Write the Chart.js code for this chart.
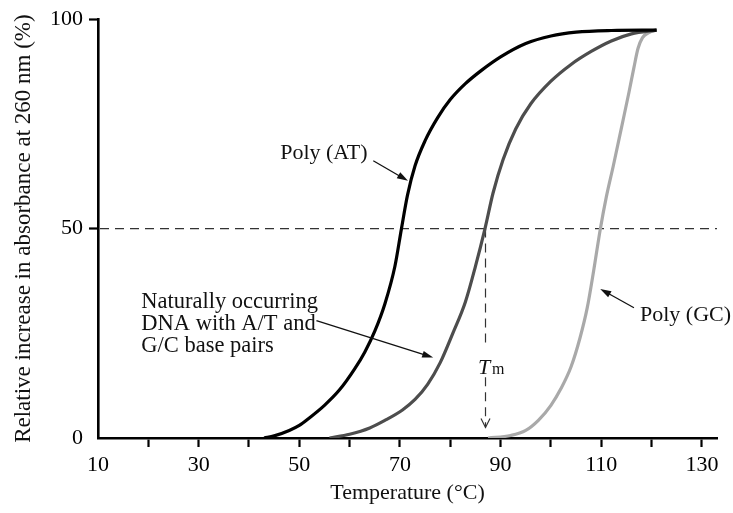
<!DOCTYPE html>
<html lang="en">
<head>
  <meta charset="UTF-8" />
  <title>DNA melting curves</title>
  <script src="https://cdn.jsdelivr.net/npm/chart.js"></script>
  <style>
    body { margin: 0; background: #fff; }
    #wrap { width: 733px; height: 513px; }
  </style>
</head>
<body>
  <div id="wrap"><canvas id="meltChart"></canvas></div>

  <script>
    // temperature (°C) and relative absorbance increase (%)
    const polyAtTemp = [43, 45, 48, 50, 52, 55, 58, 61, 63, 65, 67, 69, 70.3, 71.5, 73, 75, 77.5, 80, 83, 86, 90, 95, 100, 105, 112, 121];
    const polyAtValue = [0, 0.5, 1.8, 3, 4.8, 7.8, 11.5, 16.5, 20.5, 25.5, 32, 41, 50, 58, 65, 71, 76.5, 80.8, 84.6, 87.6, 91, 94.2, 96, 96.9, 97.3, 97.4];

    const naturalTemp = [56, 60, 64, 67, 70.5, 73, 75.5, 78, 80.5, 83, 85, 86.9, 88.5, 90.5, 93, 96, 100, 104, 108, 112, 116, 121];
    const naturalValue = [0, 0.9, 2.4, 4.2, 6.7, 9.2, 12.8, 18, 25, 32.5, 41, 50, 58.5, 66.5, 73.8, 79.8, 85.2, 89.2, 92.3, 94.8, 96.5, 97.4];

    const polyGcTemp = [87.5, 92, 95, 97.5, 100, 102, 104, 105.8, 107.2, 108.5, 109.8, 111, 112.4, 114, 115.5, 116.5, 117.3, 118.2, 119.5, 121];
    const polyGcValue = [0, 0.6, 1.8, 4.2, 7.8, 11.8, 17, 24, 31, 40, 49.8, 57.5, 65, 74, 82.5, 88.5, 93, 95.6, 96.8, 97.4];

    const xTickValues = [10, 20, 30, 40, 50, 60, 70, 80, 90, 100, 110, 120, 130];
    const xTickLabels = ['10', '', '30', '', '50', '', '70', '', '90', '', '110', '', '130'];
    const yTickValues = [0, 50, 100];
    const tmValue = 87;
    const halfValue = 50;

    const serif = "'Liberation Serif', 'Times New Roman', serif";

    function toPoints(xs, ys) {
      return xs.map((x, i) => ({ x: x, y: ys[i] }));
    }

    function arrow(ctx, x1, y1, x2, y2) {
      const ang = Math.atan2(y2 - y1, x2 - x1);
      const len = 11, half = 3.5;
      ctx.beginPath();
      ctx.moveTo(x1, y1);
      ctx.lineTo(x2 - Math.cos(ang) * len * 0.8, y2 - Math.sin(ang) * len * 0.8);
      ctx.stroke();
      ctx.beginPath();
      ctx.moveTo(x2, y2);
      ctx.lineTo(x2 - Math.cos(ang) * len - Math.sin(ang) * half, y2 - Math.sin(ang) * len + Math.cos(ang) * half);
      ctx.lineTo(x2 - Math.cos(ang) * len + Math.sin(ang) * half, y2 - Math.sin(ang) * len - Math.cos(ang) * half);
      ctx.closePath();
      ctx.fill();
    }

    // dashed guide lines at 50 % and Tm, plus the text labels
    const guides = {
      id: 'guides',
      beforeDatasetsDraw(chart) {
        const { ctx, chartArea, scales: { x, y } } = chart;
        const yHalf = y.getPixelForValue(halfValue);
        const xTm = x.getPixelForValue(tmValue);
        const yTip = y.getPixelForValue(2.5);
        ctx.save();
        ctx.strokeStyle = '#333';
        ctx.lineWidth = 1.2;
        ctx.setLineDash([9, 6]);
        ctx.beginPath();
        ctx.moveTo(chartArea.left + 2, yHalf);
        ctx.lineTo(chartArea.right, yHalf);
        ctx.stroke();
        // vertical, broken where the Tm label sits
        ctx.beginPath();
        ctx.moveTo(xTm, yHalf);
        ctx.lineTo(xTm, y.getPixelForValue(21.5));
        ctx.moveTo(xTm, y.getPixelForValue(14.5));
        ctx.lineTo(xTm, yTip);
        ctx.stroke();
        ctx.setLineDash([]);
        ctx.beginPath();
        ctx.moveTo(xTm - 4.5, yTip - 9);
        ctx.lineTo(xTm, yTip);
        ctx.lineTo(xTm + 4.5, yTip - 9);
        ctx.stroke();
        ctx.restore();
      },
      afterDatasetsDraw(chart) {
        const { ctx, scales: { x, y } } = chart;
        const px = v => x.getPixelForValue(v);
        const py = v => y.getPixelForValue(v);
        ctx.save();
        ctx.fillStyle = '#111';
        ctx.strokeStyle = '#111';
        ctx.lineWidth = 1.3;
        ctx.textBaseline = 'alphabetic';
        ctx.font = '22px ' + serif;

        ctx.textAlign = 'left';
        ctx.fillText('Poly (AT)', px(46.2), py(66.7));
        arrow(ctx, px(64.7), py(66.2), px(71.6), py(61.4));

        ctx.font = '22.5px ' + serif;
        ctx.fillText('Naturally occurring', px(18.6), py(31.1));
        ctx.fillText('DNA with A/T and', px(18.6), py(25.8));
        ctx.fillText('G/C base pairs', px(18.6), py(20.6));
        arrow(ctx, px(53.4), py(28), px(76.6), py(19.2));

        ctx.font = '22px ' + serif;
        ctx.fillText('Poly (GC)', px(117.7), py(28));
        arrow(ctx, px(116.5), py(31.1), px(109.8), py(35.6));

        ctx.font = 'italic 22px ' + serif;
        ctx.fillText('T', px(85.5), py(15.4));
        ctx.font = '16px ' + serif;
        ctx.fillText('m', px(88.3), py(15.2));
        ctx.restore();
      }
    };

    const ctx = document.getElementById('meltChart').getContext('2d');
    new Chart(ctx, {
      type: 'scatter',
      data: {
        datasets: [
          { label: 'Poly (AT)', data: toPoints(polyAtTemp, polyAtValue), borderColor: '#000' },
          { label: 'Natural DNA', data: toPoints(naturalTemp, naturalValue), borderColor: '#4d4d4d' },
          { label: 'Poly (GC)', data: toPoints(polyGcTemp, polyGcValue), borderColor: '#a9a9a9' }
        ].map(d => Object.assign(d, {
          showLine: true,
          borderWidth: 3.2,
          pointRadius: 0,
          cubicInterpolationMode: 'monotone',
          fill: false
        }))
      },
      options: {
        responsive: true,
        maintainAspectRatio: false,
        animation: false,
        layout: { padding: { top: 17, right: 16, left: 0, bottom: 0 } },
        plugins: {
          legend: { display: false },
          tooltip: { enabled: false }
        },
        scales: {
          x: {
            type: 'linear',
            min: 10,
            max: 133,
            afterBuildTicks(scale) {
              scale.ticks = xTickValues.map(v => ({ value: v }));
            },
            afterFit(scale) { scale.height = 75; },
            border: { display: true, color: '#000', width: 2.6 },
            grid: {
              drawOnChartArea: false,
              drawTicks: true,
              tickLength: 9,
              tickWidth: 2.2,
              tickColor: c => (c.tick && c.tick.value === 10 ? 'rgba(0,0,0,0)' : '#000')
            },
            ticks: {
              color: '#000',
              padding: 5,
              maxRotation: 0,
              autoSkip: false,
              font: { family: serif, size: 22 },
              callback: v => xTickLabels[xTickValues.indexOf(v)]
            },
            title: {
              display: true,
              text: 'Temperature (°C)',
              color: '#111',
              font: { family: serif, size: 22 },
              padding: { top: 0, bottom: 7 }
            }
          },
          y: {
            min: 0,
            max: 100,
            afterBuildTicks(scale) {
              scale.ticks = yTickValues.map(v => ({ value: v }));
            },
            afterFit(scale) { scale.width = 98; },
            border: { display: true, color: '#000', width: 2.6 },
            grid: {
              drawOnChartArea: false,
              drawTicks: true,
              tickLength: 9,
              tickWidth: 2.2,
              tickColor: c => (c.tick && c.tick.value === 0 ? 'rgba(0,0,0,0)' : '#000')
            },
            ticks: {
              color: '#000',
              padding: 6,
              font: { family: serif, size: 22 }
            },
            title: {
              display: true,
              text: 'Relative increase in absorbance at 260 nm (%)',
              color: '#111',
              font: { family: serif, size: 23 },
              padding: { top: 10, bottom: 0 }
            }
          }
        }
      },
      plugins: [guides]
    });
  </script>
</body>
</html>
